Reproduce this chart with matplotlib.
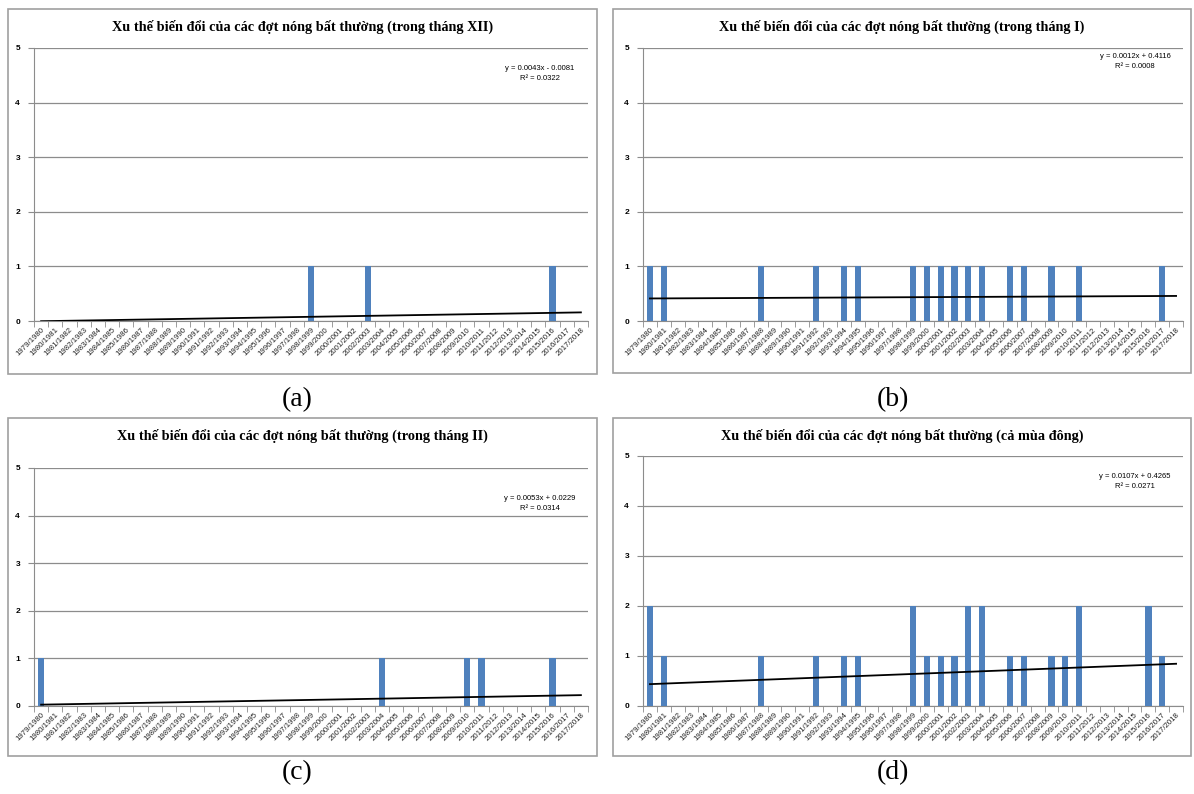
import numpy as np
import matplotlib
matplotlib.use("Agg")
import matplotlib.pyplot as plt
from matplotlib.patches import Rectangle

# seasons 1979/1980 ... 2017/2018
seasons = [f"{y}/{y + 1}" for y in range(1979, 2018)]

# number of abnormal hot spells per season
thang_xii = [0] * 39
for i in [19, 23, 36]:
    thang_xii[i] = 1
thang_i = [0] * 39
for i in [0, 1, 8, 12, 14, 15, 19, 20, 21, 22, 23, 24, 26, 27, 29, 31, 37]:
    thang_i[i] = 1
thang_ii = [0] * 39
for i in [0, 24, 30, 31, 36]:
    thang_ii[i] = 1
ca_mua = [a + b + c for a, b, c in zip(thang_xii, thang_i, thang_ii)]

titles = [
    "Xu thế biến đổi của các đợt nóng bất thường (trong tháng XII)",
    "Xu thế biến đổi của các đợt nóng bất thường (trong tháng I)",
    "Xu thế biến đổi của các đợt nóng bất thường (trong tháng II)",
    "Xu thế biến đổi của các đợt nóng bất thường (cả mùa đông)",
]
equations = [
    "y = 0.0043x - 0.0081\nR² = 0.0322",
    "y = 0.0012x + 0.4116\nR² = 0.0008",
    "y = 0.0053x + 0.0229\nR² = 0.0314",
    "y = 0.0107x + 0.4265\nR² = 0.0271",
]
captions = ["(a)", "(b)", "(c)", "(d)"]
series = [thang_xii, thang_i, thang_ii, ca_mua]

W, H = 1194, 794
fig = plt.figure(figsize=(W / 100, H / 100), dpi=100)

# pixel layout: box (x0, y0, x1, y1), plot (left, top, right, bottom), equation pos
boxes = [(8, 9, 597, 374), (613, 9, 1191, 373), (8, 418, 597, 756), (613, 418, 1191, 756)]
plots = [(34, 48, 588, 321), (643, 48, 1183, 321), (34, 468, 588, 706), (643, 456, 1183, 706)]
eq_pos = [(540, 73), (1135, 62), (540, 504), (1135, 482)]
cap_pos = [(297, 400), (893, 400), (297, 773), (893, 773)]

serif = ["Liberation Serif", "DejaVu Serif"]
sans = ["Liberation Sans", "DejaVu Sans"]

for k in range(4):
    bx0, by0, bx1, by1 = boxes[k]
    fig.patches.append(Rectangle((bx0 / W, 1 - by1 / H), (bx1 - bx0) / W, (by1 - by0) / H,
                                 transform=fig.transFigure, fill=False,
                                 edgecolor="#a0a0a0", linewidth=1.2))
    l, t, r, b = plots[k]
    ax = fig.add_axes([l / W, 1 - b / H, (r - l) / W, (b - t) / H])
    x = np.arange(39)
    ax.bar(x, series[k], width=0.45, color="#4f81bd", zorder=3)
    m, c = np.polyfit(x + 1, series[k], 1)
    ax.plot(x, m * (x + 1) + c, color="black", linewidth=1.3, zorder=4)
    ax.set_xlim(-0.5, 38.5)
    ax.set_ylim(0, 5)
    ax.set_yticks(range(6))
    ax.grid(axis="y", color="#8c8c8c", linewidth=0.9, zorder=0)
    ax.set_xticks(x)
    ax.set_xticklabels(seasons, rotation=45, ha="right", rotation_mode="anchor",
                       fontsize=5.6, family=sans, color="#222222")
    ax.set_xticks(np.arange(-0.5, 39, 1), minor=True)
    ax.tick_params(axis="x", which="major", length=0, pad=4)
    ax.tick_params(axis="x", which="minor", length=4, color="#8c8c8c")
    ax.tick_params(axis="y", length=4, color="#8c8c8c", labelsize=6, pad=6)
    for lab in ax.get_yticklabels():
        lab.set_family(sans)
        lab.set_fontweight("bold")
    for s in ["top", "right"]:
        ax.spines[s].set_visible(False)
    for s in ["left", "bottom"]:
        ax.spines[s].set_color("#8c8c8c")
    ax.set_facecolor("none")

    fig.text((bx0 + bx1) / 2 / W, 1 - 27 / H - (by0 - 9) / H, titles[k],
             ha="center", va="center", fontsize=10.3, fontweight="bold", family=serif)
    ex, ey = eq_pos[k]
    fig.text(ex / W, 1 - ey / H, equations[k], ha="center", va="center",
             fontsize=5.5, family=sans, linespacing=1.6)
    cx, cy = cap_pos[k]
    fig.text(cx / W, 1 - cy / H, captions[k], ha="center", va="center",
             fontsize=20, family=serif)

fig.savefig("out.png", dpi=100)
